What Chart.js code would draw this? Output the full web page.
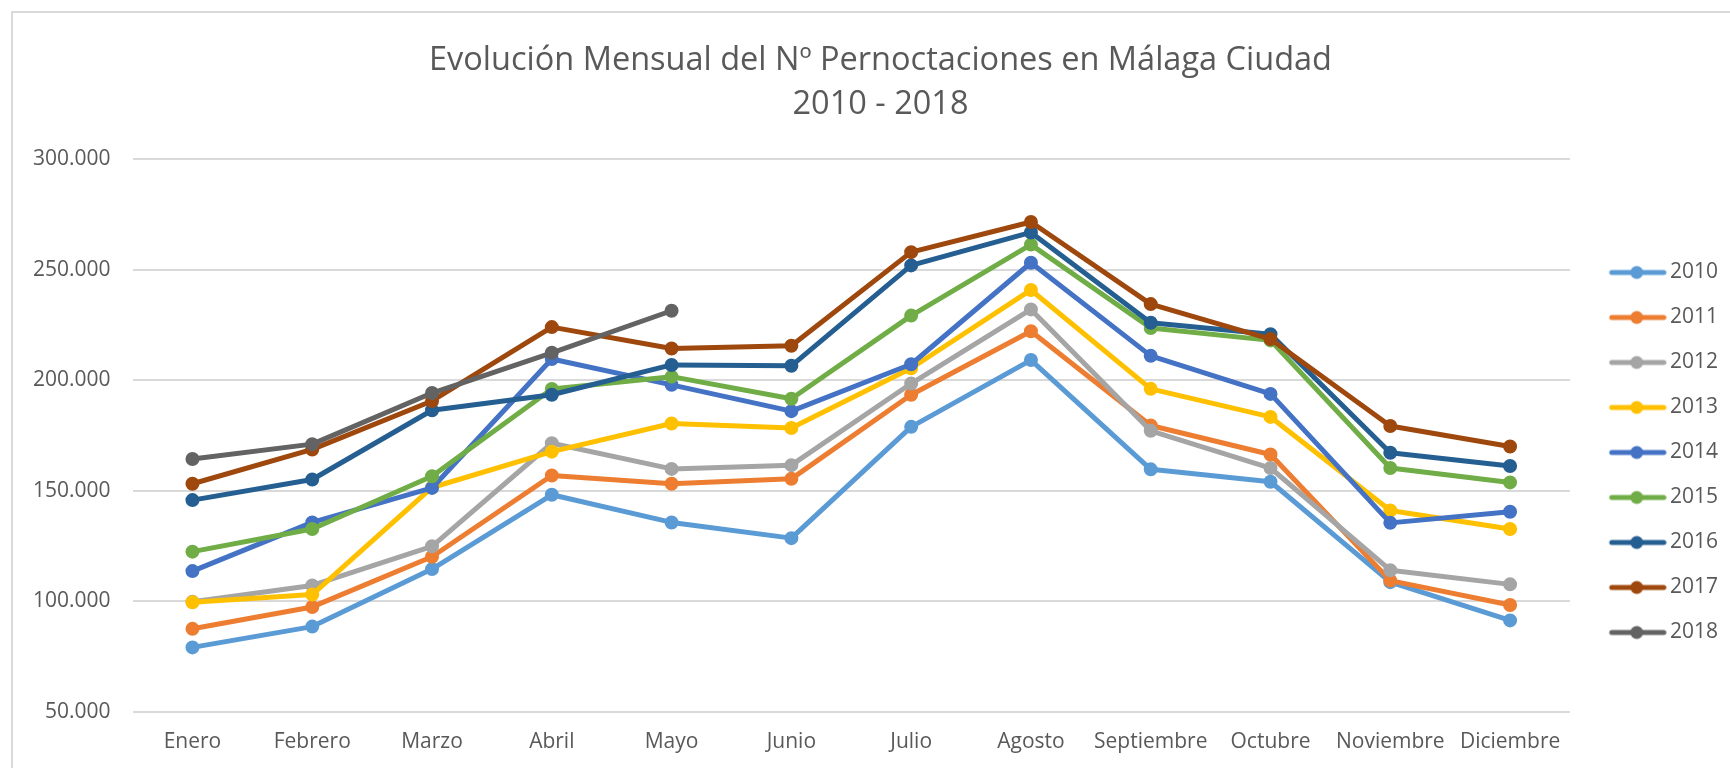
<!DOCTYPE html>
<html>
<head>
<meta charset="utf-8">
<script src="https://cdn.jsdelivr.net/npm/chart.js@4.4.0/dist/chart.umd.min.js"></script>
<style>
  html, body { margin: 0; padding: 0; background: #ffffff; overflow: hidden; width: 1730px; height: 768px; }
  #frame { position: absolute; left: 11px; top: 11px; width: 1800px; height: 800px;
           border-left: 2px solid #d9d9d9; border-top: 2px solid #d9d9d9; }
  #wrap { position: absolute; left: 0; top: 0; width: 1760px; height: 768px; }
</style>
</head>
<body>
<div id="frame"></div>
<div id="wrap"><canvas id="c" width="1760" height="768"></canvas></div>
<script>
const months = ['Enero', 'Febrero', 'Marzo', 'Abril', 'Mayo', 'Junio', 'Julio', 'Agosto', 'Septiembre', 'Octubre', 'Noviembre', 'Diciembre'];
const years = ['2010', '2011', '2012', '2013', '2014', '2015', '2016', '2017', '2018'];
const s2010 = [79200, 88600, 114600, 148200, 135700, 128600, 178900, 209100, 159700, 154100, 108700, 91400];
const s2011 = [87600, 97500, 120200, 156900, 153200, 155400, 193400, 222100, 179500, 166400, 109400, 98400];
const s2012 = [99800, 107200, 124900, 171500, 159900, 161600, 198500, 232000, 177100, 160300, 114100, 107700];
const s2013 = [99600, 103100, 151500, 167700, 180400, 178400, 205400, 240800, 196100, 183400, 141100, 132700];
const s2014 = [113700, 135700, 151300, 209600, 197900, 186000, 207200, 253100, 211000, 193800, 135500, 140500];
const s2015 = [122500, 132700, 156600, 196000, 201600, 191600, 229200, 261300, 223600, 218000, 160300, 153800];
const s2016 = [145800, 155100, 186400, 193400, 206900, 206500, 251900, 266800, 226000, 220800, 167200, 161200];
const s2017 = [153200, 168700, 190600, 224000, 214300, 215600, 257900, 271500, 234400, 218600, 179300, 170000];
const s2018 = [164400, 171100, 194200, 212400, 231400];
const yTicks = [50000, 100000, 150000, 200000, 250000, 300000];
const titleLines = ['Evolución Mensual del Nº Pernoctaciones en Málaga Ciudad', '2010 - 2018'];

const seriesValues = [s2010, s2011, s2012, s2013, s2014, s2015, s2016, s2017, s2018];
const colors = ['#5B9BD5', '#ED7D31', '#A5A5A5', '#FFC000', '#4472C4', '#70AD47', '#255E91', '#9E480E', '#636363'];
const textColor = '#595959';
const FONT = "'Open Sans', 'DejaVu Sans', sans-serif";

function fmt(v) {
  return String(Math.round(v)).replace(/\B(?=(\d{3})+(?!\d))/g, '.');
}

function legendSwatch(color) {
  const cv = document.createElement('canvas');
  cv.width = 80; cv.height = 16;
  const g = cv.getContext('2d');
  g.strokeStyle = color;
  g.lineWidth = 5;
  g.lineCap = 'round';
  g.beginPath();
  g.moveTo(25, 8);
  g.lineTo(77, 8);
  g.stroke();
  g.fillStyle = color;
  g.beginPath();
  g.arc(50, 8, 6.5, 0, Math.PI * 2);
  g.fill();
  return cv;
}

const datasets = years.map((y, i) => ({
  label: y,
  data: seriesValues[i],
  borderColor: colors[i],
  backgroundColor: colors[i],
  pointBackgroundColor: colors[i],
  pointBorderColor: colors[i],
  borderWidth: 5,
  pointRadius: 6,
  pointBorderWidth: 2,
  pointHoverRadius: 6,
  tension: 0,
  fill: false,
  borderJoinStyle: 'round',
  borderCapStyle: 'round',
  order: years.length - 1 - i
}));

const swatches = colors.map(legendSwatch);

const titleShift = {
  id: 'titleShift',
  afterLayout(chart) {
    const t = chart.titleBlock;
    if (t) { t.left += 11; t.right += 11; }
  }
};

new Chart(document.getElementById('c'), {
  type: 'line',
  data: { labels: months, datasets: datasets },
  plugins: [titleShift],
  options: {
    responsive: false,
    animation: false,
    devicePixelRatio: 1,
    layout: { padding: { left: 11, right: 32, top: 0, bottom: 0 } },
    plugins: {
      tooltip: { enabled: false },
      title: {
        display: true,
        text: titleLines,
        color: textColor,
        font: { family: FONT, size: 32.5, weight: 'normal', lineHeight: 44 / 32.5 },
        padding: { top: 39, bottom: 32 }
      },
      legend: {
        display: true,
        position: 'right',
        align: 'center',
        fullSize: false,
        title: { display: true, text: '', font: { size: 10, lineHeight: 1 }, padding: 12 },
        labels: {
          color: textColor,
          font: { family: FONT, size: 21 },
          padding: 24,
          usePointStyle: true,
          pointStyleWidth: 65.5,
          generateLabels: (chart) => years.map((y, i) => ({
            text: y,
            pointStyle: swatches[i],
            fillStyle: colors[i],
            strokeStyle: colors[i],
            lineWidth: 0,
            fontColor: textColor,
            hidden: false,
            datasetIndex: i
          }))
        }
      }
    },
    scales: {
      x: {
        type: 'category',
        offset: true,
        grid: { display: false, drawTicks: false },
        border: { display: false },
        afterFit: (axis) => { axis.height = 56; },
        ticks: { color: textColor, font: { family: FONT, size: 21 }, padding: 17, maxRotation: 0, autoSkip: false }
      },
      y: {
        min: yTicks[0],
        max: yTicks[yTicks.length - 1],
        afterBuildTicks: (axis) => { axis.ticks = yTicks.map(v => ({ value: v })); },
        grid: { color: '#d9d9d9', lineWidth: 2, drawTicks: false },
        border: { display: false },
        ticks: { color: textColor, font: { family: FONT, size: 21 }, padding: 22, callback: (v) => fmt(v) }
      }
    }
  }
});
</script>
</body>
</html>
